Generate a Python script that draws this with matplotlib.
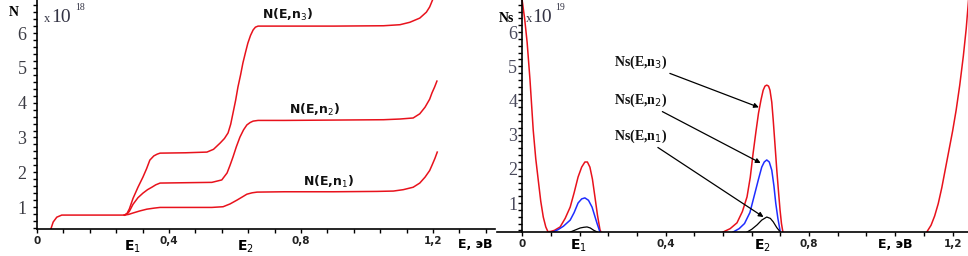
import matplotlib.pyplot as plt
from matplotlib.ticker import MultipleLocator, FixedLocator

# left panel: N(E) curves, x in eV, y in units of 1e18
e_low = [0.042, 0.049, 0.06, 0.075, 0.12, 0.2, 0.255, 0.265]
n_low = [0.37, 0.57, 0.71, 0.77, 0.77, 0.77, 0.77, 0.77]

e_n1 = [0.265, 0.278, 0.291, 0.312, 0.333, 0.355, 0.373, 0.45, 0.53, 0.564, 0.585,
        0.606, 0.622, 0.636, 0.652, 0.667, 0.75, 0.9, 1.03, 1.08, 1.11, 1.14, 1.16,
        1.176, 1.19, 1.197, 1.206, 1.213]
n_n1 = [0.77, 0.79, 0.83, 0.89, 0.94, 0.97, 0.99, 0.99, 0.99, 1.01, 1.09,
        1.20, 1.29, 1.37, 1.41, 1.43, 1.44, 1.44, 1.45, 1.46, 1.50, 1.57, 1.69,
        1.86, 2.05, 2.2, 2.4, 2.58]

e_n2 = [0.265, 0.273, 0.28, 0.291, 0.306, 0.321, 0.335, 0.348, 0.36, 0.373, 0.45,
        0.53, 0.56, 0.576, 0.585, 0.594, 0.604, 0.615, 0.626, 0.636, 0.646, 0.655,
        0.67, 0.75, 0.9, 1.05, 1.1, 1.14, 1.16, 1.176, 1.19, 1.197, 1.205, 1.212]
n_n2 = [0.77, 0.8, 0.88, 1.08, 1.27, 1.40, 1.50, 1.57, 1.64, 1.69, 1.70,
        1.71, 1.78, 1.98, 2.2, 2.44, 2.73, 3.01, 3.22, 3.36, 3.43, 3.47,
        3.49, 3.49, 3.50, 3.51, 3.53, 3.56, 3.68, 3.87, 4.1, 4.28, 4.45, 4.62]

e_n3 = [0.265, 0.273, 0.28, 0.291, 0.306, 0.321, 0.332, 0.342, 0.354, 0.364, 0.373,
        0.45, 0.515, 0.535, 0.555, 0.568, 0.579, 0.587, 0.594, 0.602, 0.609, 0.617,
        0.624, 0.632, 0.639, 0.647, 0.655, 0.662, 0.67, 0.75, 0.9, 1.05, 1.1, 1.13,
        1.16, 1.18, 1.19, 1.2]
n_n3 = [0.77, 0.82, 0.95, 1.25, 1.57, 1.86, 2.1, 2.35, 2.47, 2.52, 2.55,
        2.56, 2.58, 2.66, 2.84, 2.97, 3.13, 3.38, 3.70, 4.07, 4.45, 4.80,
        5.14, 5.45, 5.71, 5.93, 6.09, 6.17, 6.2, 6.2, 6.2, 6.21, 6.24, 6.31,
        6.43, 6.6, 6.75, 6.98]

# right panel: Ns(E) curves, y in units of 1e19
e_s_red_a = [0.0, 0.007, 0.014, 0.022, 0.031, 0.038, 0.045, 0.052, 0.059, 0.066,
             0.072, 0.08, 0.09, 0.106, 0.12, 0.134, 0.145, 0.156, 0.166, 0.175,
             0.182, 0.189, 0.196, 0.203, 0.21, 0.217, 0.222]
s_red_a = [6.94, 6.4, 5.7, 4.6, 3.13, 2.3, 1.67, 1.05, 0.59, 0.3,
           0.16, 0.17, 0.2, 0.3, 0.55, 0.88, 1.3, 1.76, 2.05, 2.2,
           2.2, 2.05, 1.7, 1.18, 0.65, 0.22, 0.1]
e_s_blue_a = [0.086, 0.1, 0.115, 0.134, 0.145, 0.156, 0.166, 0.175, 0.185, 0.195,
              0.202, 0.209, 0.217]
s_blue_a = [0.15, 0.22, 0.32, 0.5, 0.72, 1.0, 1.12, 1.15, 1.08, 0.88,
            0.64, 0.4, 0.15]
e_s_black_a = [0.134, 0.148, 0.162, 0.172, 0.181, 0.19, 0.2, 0.21]
s_black_a = [0.15, 0.21, 0.27, 0.29, 0.30, 0.27, 0.2, 0.15]

e_s_red_b = [0.56, 0.58, 0.599, 0.614, 0.627, 0.636, 0.644, 0.652, 0.659, 0.666,
             0.672, 0.677, 0.682, 0.687, 0.691, 0.696, 0.70, 0.705, 0.71, 0.715,
             0.719, 0.723, 0.727]
s_red_b = [0.15, 0.25, 0.42, 0.75, 1.18, 1.75, 2.46, 3.1, 3.63, 4.02,
           4.30, 4.42, 4.45, 4.42, 4.30, 3.95, 3.43, 2.7, 1.96, 1.3,
           0.8, 0.4, 0.15]
e_s_blue_b = [0.588, 0.605, 0.62, 0.635, 0.649, 0.659, 0.668, 0.675, 0.682, 0.689,
              0.696, 0.702, 0.707, 0.713, 0.719]
s_blue_b = [0.15, 0.25, 0.4, 0.72, 1.29, 1.7, 2.05, 2.2, 2.26, 2.2,
            1.96, 1.5, 1.0, 0.55, 0.2]
e_s_black_b = [0.627, 0.64, 0.655, 0.668, 0.682, 0.692, 0.70, 0.71, 0.72]
s_black_b = [0.15, 0.23, 0.36, 0.5, 0.59, 0.55, 0.45, 0.28, 0.15]

e_s_red_c = [1.128, 1.14, 1.15, 1.16, 1.17, 1.18, 1.19, 1.2, 1.21, 1.22, 1.23,
             1.238, 1.245]
s_red_c = [0.15, 0.35, 0.62, 0.98, 1.45, 2.0, 2.55, 3.1, 3.72, 4.45, 5.3,
           6.1, 7.0]

y_ticks = [1, 2, 3, 4, 5, 6]
x_ticks = [0, 0.4, 0.8, 1.2]
x_tick_labels = ["0", "0,4", "0,8", "1,2"]

RED = "#e8121c"
BLUE = "#1f2dff"

fig = plt.figure(figsize=(9.68, 2.56), dpi=100)


def style_axes(ax, ycolor, ypad):
    ax.spines["top"].set_visible(False)
    ax.spines["right"].set_visible(False)
    ax.spines["left"].set_linewidth(1.2)
    ax.spines["bottom"].set_linewidth(1.2)
    ax.xaxis.set_major_locator(FixedLocator(x_ticks))
    ax.xaxis.set_minor_locator(MultipleLocator(0.08))
    ax.set_xticklabels(x_tick_labels, fontsize=7.5, fontweight="bold", color="#222222")
    ax.yaxis.set_major_locator(FixedLocator(y_ticks))
    ax.yaxis.set_minor_locator(MultipleLocator(0.2))
    ax.set_yticklabels([str(t) for t in y_ticks], fontsize=13,
                       family="Liberation Serif", color=ycolor)
    ax.tick_params(which="both", direction="out", length=3, width=1)
    ax.tick_params(axis="y", which="major", pad=ypad)
    ax.tick_params(axis="x", which="major", pad=2)


# ---- left panel
ax1 = fig.add_axes([37 / 968, 27 / 256, 458 / 968, 229 / 256])
ax1.set_xlim(0, 1.388)
ax1.set_ylim(0.37, 6.95)
style_axes(ax1, "#3c3c44", 4.5)
for xs, ys in [(e_low, n_low), (e_n1, n_n1), (e_n2, n_n2), (e_n3, n_n3)]:
    ax1.plot(xs, ys, color=RED, lw=1.1)

lab = dict(fontsize=9, fontweight="bold", ha="center", va="center", color="#111111")
ax1.text(0.76, 6.52, "N(E,n$_3$)", **lab)
ax1.text(0.84, 3.79, "N(E,n$_2$)", **lab)
ax1.text(0.885, 1.72, "N(E,n$_1$)", **lab)

fig.text(14 / 968, 1 - 12 / 256, "N", fontsize=10, fontweight="bold",
         family="Liberation Serif", ha="center", va="center")
fig.text(47 / 968, 1 - 19 / 256, "x", fontsize=9, family="Liberation Serif",
         ha="center", va="center", color="#333344")
fig.text(61 / 968, 1 - 18 / 256, "10", fontsize=14, family="Liberation Serif",
         ha="center", va="center", color="#333344")
fig.text(80 / 968, 1 - 8 / 256, "18", fontsize=7, family="Liberation Serif",
         ha="center", va="center", color="#333344")

fig.text(132 / 968, 1 - 247 / 256, "E$_1$", fontsize=10, fontweight="bold",
         ha="center", va="center")
fig.text(245 / 968, 1 - 247 / 256, "E$_2$", fontsize=10, fontweight="bold",
         ha="center", va="center")
fig.text(475 / 968, 1 - 245 / 256, "E, эВ", fontsize=9, fontweight="bold",
         ha="center", va="center")

# ---- right panel
ax2 = fig.add_axes([497 / 968, 24 / 256, 471 / 968, 232 / 256])
ax2.spines["left"].set_position(("data", 0))
ax2.set_xlim(-0.07, 1.243)
ax2.set_ylim(0.152, 6.94)
style_axes(ax2, "#4a4a5c", 0.5)
ax2.plot(e_s_red_a, s_red_a, color=RED, lw=1.1)
ax2.plot(e_s_blue_a, s_blue_a, color=BLUE, lw=1.1)
ax2.plot(e_s_black_a, s_black_a, color="black", lw=0.9)
ax2.plot(e_s_red_b, s_red_b, color=RED, lw=1.1)
ax2.plot(e_s_blue_b, s_blue_b, color=BLUE, lw=1.1)
ax2.plot(e_s_black_b, s_black_b, color="black", lw=0.9)
ax2.plot(e_s_red_c, s_red_c, color=RED, lw=1.1)

ann = dict(fontsize=10, fontweight="bold", family="Liberation Serif", ha="center",
           va="center", color="#111111",
           arrowprops=dict(arrowstyle="-|>", color="black", lw=0.9,
                           mutation_scale=7, shrinkA=0, shrinkB=0))
ax2.annotate("Ns(E,n$_3$)", xy=(0.66, 3.8), xytext=(0.33, 5.12), **ann)
ax2.annotate("Ns(E,n$_2$)", xy=(0.665, 2.17), xytext=(0.33, 4.01), **ann)
ax2.annotate("Ns(E,n$_1$)", xy=(0.673, 0.59), xytext=(0.33, 2.96), **ann)

fig.text(506 / 968, 1 - 18 / 256, "Ns", fontsize=10, fontweight="bold",
         family="Liberation Serif", ha="center", va="center")
fig.text(529 / 968, 1 - 19 / 256, "x", fontsize=9, family="Liberation Serif",
         ha="center", va="center", color="#333344")
fig.text(542 / 968, 1 - 18 / 256, "10", fontsize=14, family="Liberation Serif",
         ha="center", va="center", color="#333344")
fig.text(560 / 968, 1 - 8 / 256, "19", fontsize=7, family="Liberation Serif",
         ha="center", va="center", color="#333344")

fig.text(578 / 968, 1 - 246 / 256, "E$_1$", fontsize=10, fontweight="bold",
         ha="center", va="center")
fig.text(762 / 968, 1 - 246 / 256, "E$_2$", fontsize=10, fontweight="bold",
         ha="center", va="center")
fig.text(895 / 968, 1 - 245 / 256, "E, эВ", fontsize=9, fontweight="bold",
         ha="center", va="center")

fig.savefig("out.png", dpi=100)
